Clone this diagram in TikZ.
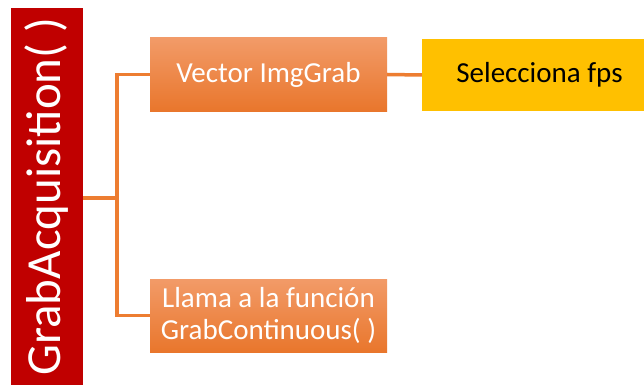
\documentclass[tikz,border=0pt]{standalone}
\usepackage{fontspec}
\setmainfont{Carlito}
\definecolor{barred}{HTML}{C00000}
\definecolor{orTop}{RGB}{242,155,104}
\definecolor{orBot}{RGB}{233,118,44}
\definecolor{conncol}{HTML}{ED7D31}
\definecolor{ylw}{HTML}{FFC000}
\tikzset{
  obox/.style={top color=orTop, bottom color=orBot, draw=none, minimum width=237pt, minimum height=73pt, inner sep=0pt, text=white, align=center, font=\fontsize{29}{32}\selectfont},
  ybox/.style={fill=ylw, draw=none, minimum width=235pt, minimum height=72pt, inner sep=0pt, text=black, font=\fontsize{29}{32}\selectfont},
  conn/.style={draw=conncol, line width=3.5pt},
}
\begin{document}
\begin{tikzpicture}[x=1pt,y=-1pt]
\clip (0,0) rectangle (644,385);
\fill[white] (0,0) rectangle (644,385);
\node[fill=barred, rotate=90, minimum width=377pt, minimum height=72pt, inner sep=0pt, text=white, font=\fontsize{49}{50}\selectfont] (bar) at (47,196.5) {GrabAcquisition( )};
\node[obox] (b1) at (268.5,74.5) {Vector ImgGrab};
\node[obox] (b2) at (268.5,315.5) {Llama a la función\\GrabContinuous( )};
\node[ybox] (b3) at (539.5,75) {Selecciona fps};
\coordinate (j) at (117,198);
\draw[conn] (bar.south |- j) -- (j);
\draw[conn] (b1.west) -| (j) |- (b2.west);
\draw[conn] (b1.east) -- (b3.west);
\end{tikzpicture}
\end{document}
